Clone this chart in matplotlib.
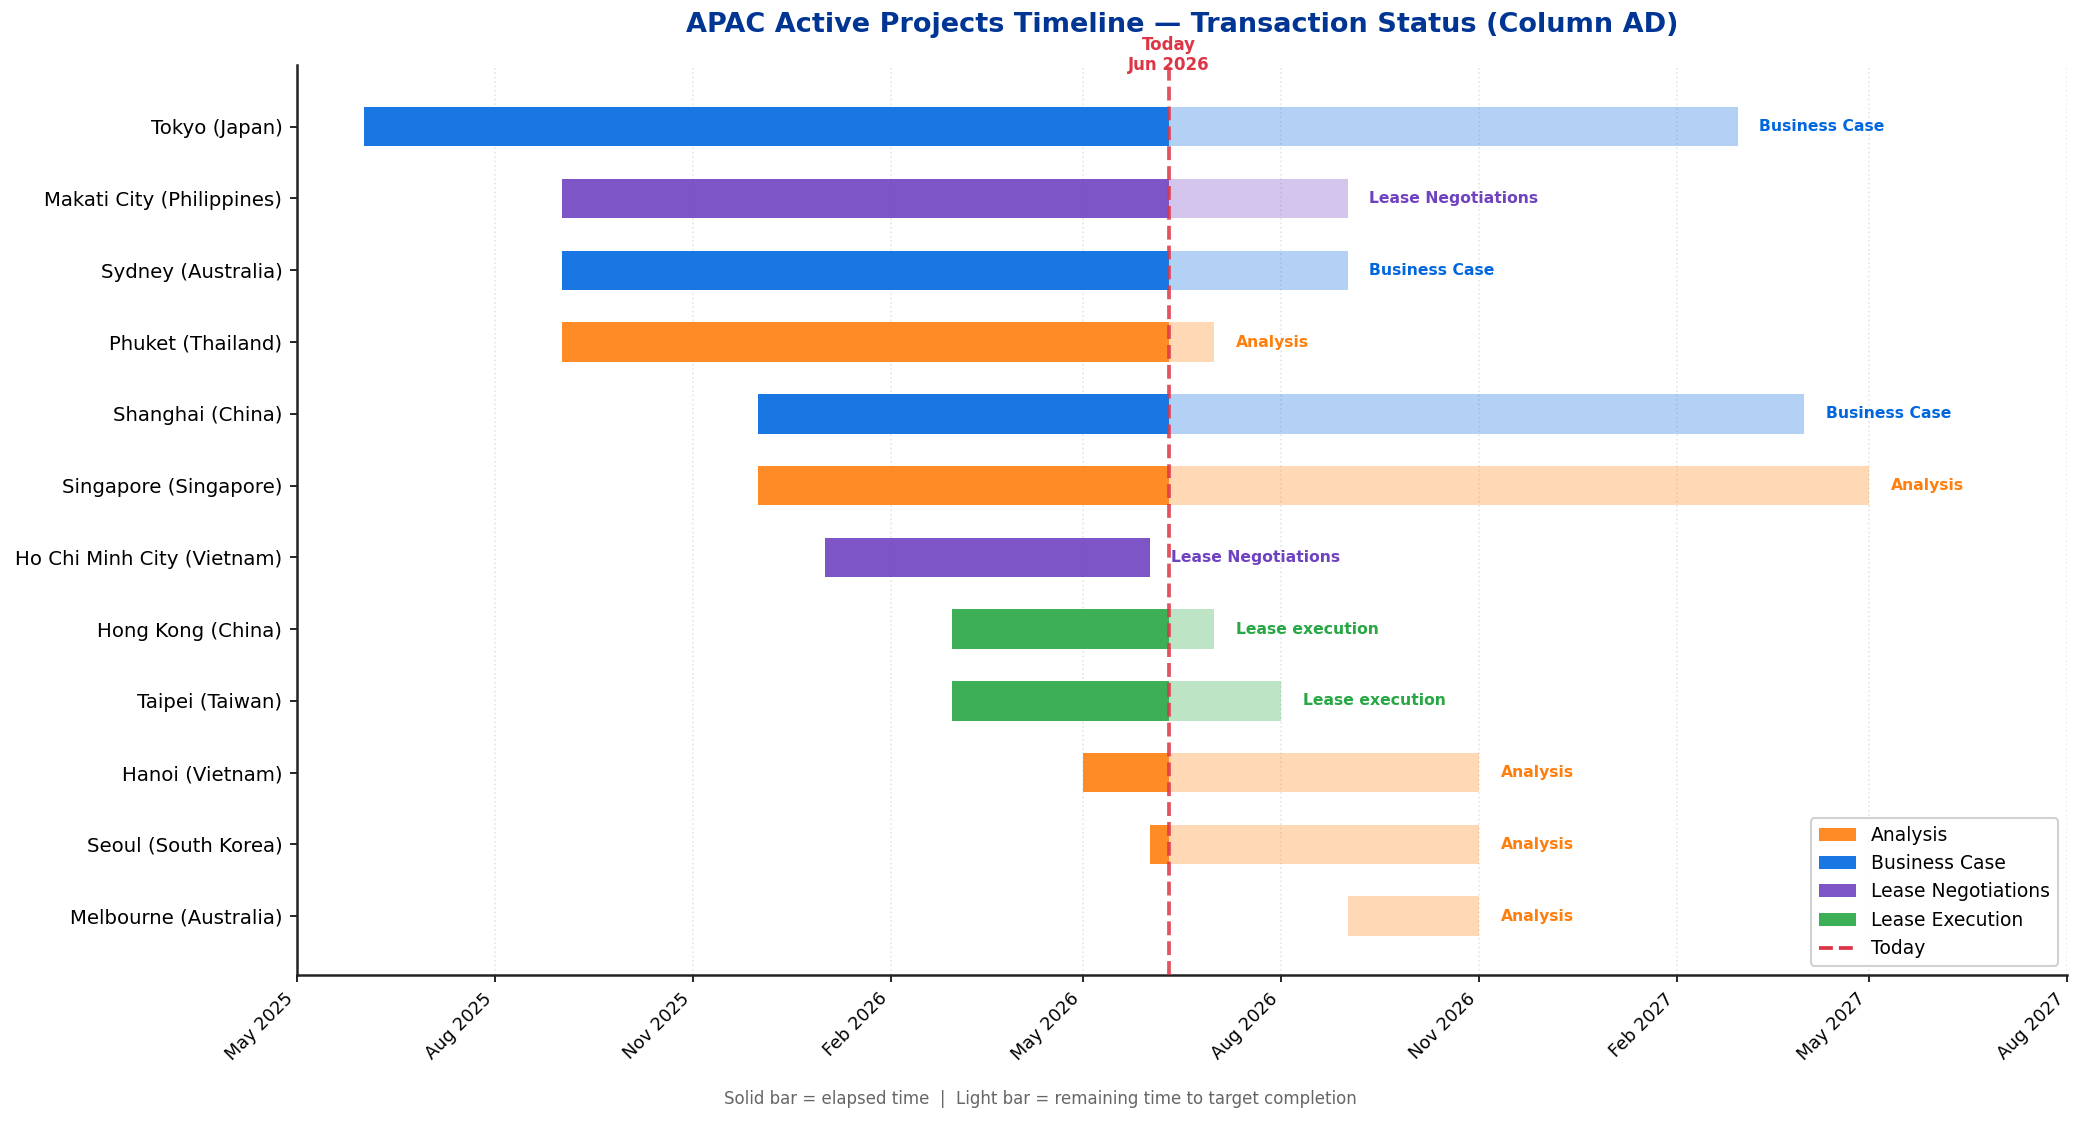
import matplotlib
matplotlib.use("Agg")
import matplotlib.pyplot as plt
import matplotlib.dates as mdates
from matplotlib.patches import Patch
from matplotlib.lines import Line2D
from datetime import datetime, timedelta

projects = ["Tokyo (Japan)", "Makati City (Philippines)", "Sydney (Australia)",
            "Phuket (Thailand)", "Shanghai (China)", "Singapore (Singapore)",
            "Ho Chi Minh City (Vietnam)", "Hong Kong (China)", "Taipei (Taiwan)",
            "Hanoi (Vietnam)", "Seoul (South Korea)", "Melbourne (Australia)"]
starts = ["2025-06-01", "2025-09-01", "2025-09-01", "2025-09-01", "2025-12-01",
          "2025-12-01", "2026-01-01", "2026-03-01", "2026-03-01", "2026-05-01",
          "2026-06-01", "2026-09-01"]
ends = ["2027-03-01", "2026-09-01", "2026-09-01", "2026-07-01", "2027-04-01",
        "2027-05-01", "2026-06-01", "2026-07-01", "2026-08-01", "2026-11-01",
        "2026-11-01", "2026-11-01"]
statuses = ["Business Case", "Lease Negotiations", "Business Case", "Analysis",
            "Business Case", "Analysis", "Lease Negotiations", "Lease execution",
            "Lease execution", "Analysis", "Analysis", "Analysis"]
phase_names = ["Analysis", "Business Case", "Lease Negotiations", "Lease Execution"]
phase_colors = ["#FF7F0E", "#0067DF", "#6F42C1", "#28A745"]
today_str = "2026-06-10"
x_start, x_end = "2025-05-01", "2027-08-01"

color_map = {n.lower(): c for n, c in zip(phase_names, phase_colors)}
today = datetime.strptime(today_str, "%Y-%m-%d")
red = "#DC3545"

fig = plt.figure(figsize=(2081 / 150, 1124 / 150), dpi=150)
ax = fig.add_axes([297 / 2081, 1 - 975 / 1124, (2067 - 297) / 2081, (975 - 65) / 1124])

bar_h = 0.55
for i, (p, s, e, st) in enumerate(zip(projects, starts, ends, statuses)):
    sd = datetime.strptime(s, "%Y-%m-%d")
    ed = datetime.strptime(e, "%Y-%m-%d")
    c = color_map[st.lower()]
    if sd < today:
        solid_end = min(ed, today)
        ax.barh(i, mdates.date2num(solid_end) - mdates.date2num(sd),
                left=mdates.date2num(sd), height=bar_h, color=c, alpha=0.9, zorder=2)
    if ed > today:
        light_start = max(sd, today)
        ax.barh(i, mdates.date2num(ed) - mdates.date2num(light_start),
                left=mdates.date2num(light_start), height=bar_h, color=c, alpha=0.3, zorder=2)
    ax.text(mdates.date2num(ed + timedelta(days=10)), i, st, va="center", ha="left",
            fontsize=7.5, fontweight="bold", color=c, zorder=4)

ax.axvline(mdates.date2num(today), color=red, linestyle="--", linewidth=1.8, alpha=0.85, zorder=3)

ax.set_yticks(range(len(projects)))
ax.set_yticklabels(projects, fontsize=9.5)
ax.set_ylim(11.82, -0.86)

ax.set_xlim(mdates.date2num(datetime.strptime(x_start, "%Y-%m-%d")),
            mdates.date2num(datetime.strptime(x_end, "%Y-%m-%d")))
ax.xaxis.set_major_locator(mdates.MonthLocator(bymonth=[2, 5, 8, 11]))
ax.xaxis.set_major_formatter(mdates.DateFormatter("%b %Y"))
plt.setp(ax.get_xticklabels(), rotation=45, ha="right", fontsize=8.5)

ax.text(mdates.date2num(today), -0.73, "Today\n" + today.strftime("%b %Y"), ha="center",
        va="bottom", fontsize=8, fontweight="bold", color=red)

ax.grid(axis="x", linestyle=":", color="#cccccc", alpha=0.5, zorder=0)
ax.set_axisbelow(True)
for sp in ["top", "right"]:
    ax.spines[sp].set_visible(False)
for sp in ["left", "bottom"]:
    ax.spines[sp].set_color("#222222")
    ax.spines[sp].set_linewidth(1.2)

ax.set_title("APAC Active Projects Timeline \u2014 Transaction Status (Column AD)",
             fontsize=13, fontweight="bold", color="#003594", pad=16)

handles = [Patch(facecolor=c, alpha=0.9, label=n) for n, c in zip(phase_names, phase_colors)]
handles.append(Line2D([0], [0], color=red, linestyle="--", linewidth=1.8, label="Today"))
ax.legend(handles=handles, loc="lower right", fontsize=9, framealpha=0.9)

fig.text(0.5, 1 - 1099 / 1124, "Solid bar = elapsed time  |  Light bar = remaining time to target completion",
         ha="center", va="center", fontsize=8, color="#666666")

fig.savefig("out.png", dpi=150)
